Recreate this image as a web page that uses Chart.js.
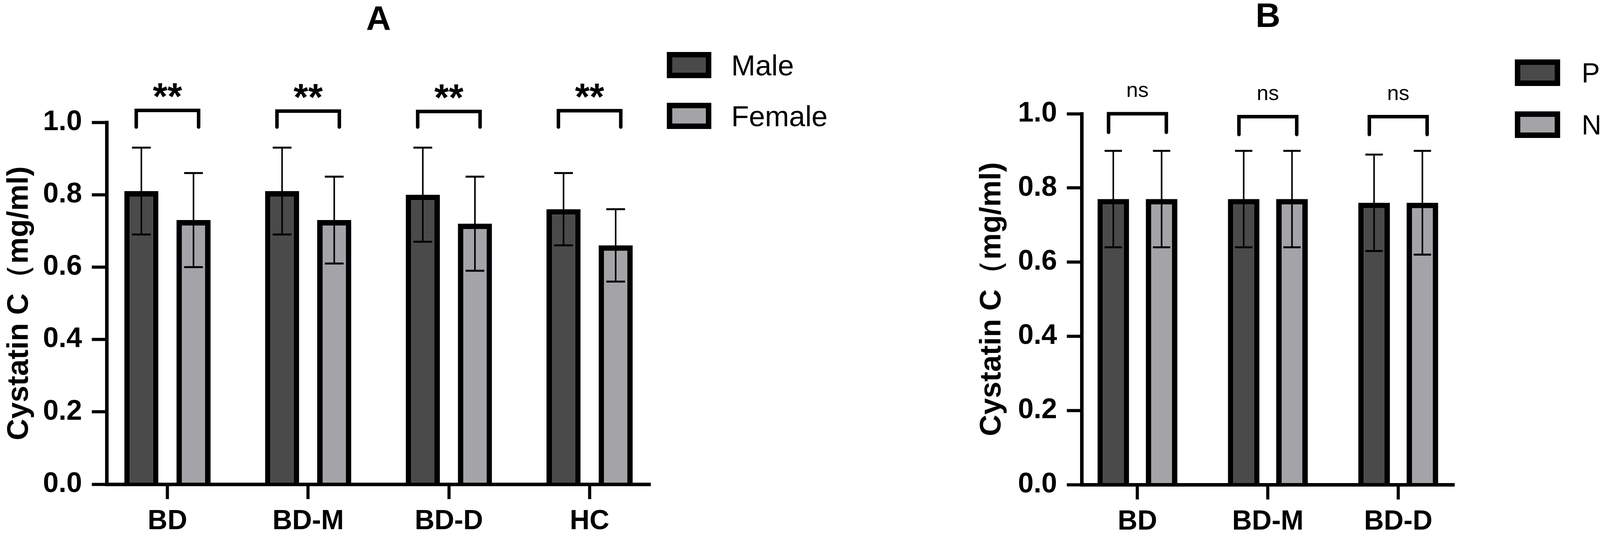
<!DOCTYPE html>
<html>
<head>
<meta charset="utf-8">
<title>Cystatin C</title>
<script src="https://cdn.jsdelivr.net/npm/chart.js@4.4.0/dist/chart.umd.min.js"></script>
<style>
  html, body { margin: 0; padding: 0; background: #fff; overflow: hidden; }
  #wrap { position: relative; width: 4160px; height: 1374px; }
  canvas { position: absolute; top: 0; }
  #chartA { left: 0; }
  #chartB { left: 2080px; }
</style>
</head>
<body>
<div id="wrap">
  <canvas id="chartA" width="2300" height="1374" style="width:2300px;height:1374px"></canvas>
  <canvas id="chartB" width="2080" height="1374" style="width:2080px;height:1374px"></canvas>
</div>
<script>
// Panel A: sex
const groupsA = ['BD', 'BD-M', 'BD-D', 'HC'];
const maleMean = [0.81, 0.81, 0.80, 0.76];
const maleSd = [0.12, 0.12, 0.13, 0.10];
const femaleMean = [0.73, 0.73, 0.72, 0.66];
const femaleSd = [0.13, 0.12, 0.13, 0.10];
const sigA = ['**', '**', '**', '**'];

// Panel B: psychotic / non-psychotic
const groupsB = ['BD', 'BD-M', 'BD-D'];
const pMean = [0.77, 0.77, 0.76];
const pSd = [0.13, 0.13, 0.13];
const npMean = [0.77, 0.77, 0.76];
const npSd = [0.13, 0.13, 0.14];
const sigB = ['ns', 'ns', 'ns'];

const yTicks = [0, 0.2, 0.4, 0.6, 0.8, 1.0];

const FONT = "'Liberation Sans', Arial, sans-serif";
const DARK = '#4a4a4a';
const LIGHT = '#a4a3a8';

Chart.defaults.font.family = FONT;
Chart.defaults.color = '#000';

// mean +/- SD whiskers on every bar
const errorBars = {
  id: 'errorBars',
  afterDatasetsDraw(chart, args, opts) {
    const { ctx } = chart;
    const y = chart.scales.y;
    ctx.save();
    ctx.strokeStyle = '#000';
    chart.data.datasets.forEach((ds, di) => {
      chart.getDatasetMeta(di).data.forEach((bar, i) => {
        const v = ds.data[i].y;
        const sd = ds.sd[i];
        const yHi = y.getPixelForValue(v + sd);
        const yLo = y.getPixelForValue(v - sd);
        const half = bar.width * opts.capRatio / 2;
        ctx.lineWidth = opts.lineWidth;
        ctx.beginPath();
        ctx.moveTo(bar.x, yHi);
        ctx.lineTo(bar.x, yLo);
        ctx.stroke();
        ctx.lineWidth = opts.capWidth;
        ctx.beginPath();
        ctx.moveTo(bar.x - half, yHi);
        ctx.lineTo(bar.x + half, yHi);
        ctx.moveTo(bar.x - half, yLo);
        ctx.lineTo(bar.x + half, yLo);
        ctx.stroke();
      });
    });
    ctx.restore();
  }
};

// significance brackets above each pair of bars
const sigBrackets = {
  id: 'sigBrackets',
  afterDraw(chart, args, opts) {
    const { ctx } = chart;
    const y = chart.scales.y;
    const m0 = chart.getDatasetMeta(0);
    const m1 = chart.getDatasetMeta(1);
    ctx.save();
    ctx.strokeStyle = '#000';
    ctx.fillStyle = '#000';
    ctx.lineWidth = opts.lineWidth;
    ctx.lineCap = 'round';
    ctx.lineJoin = 'miter';
    ctx.font = opts.font;
    ctx.textAlign = 'center';
    ctx.textBaseline = 'alphabetic';
    opts.labels.forEach((lab, i) => {
      const a = m0.data[i];
      const b = m1.data[i];
      const x1 = a.x - a.width * opts.inset;
      const x2 = b.x + b.width * opts.inset;
      const yt = y.getPixelForValue(opts.top[i]);
      const yb = y.getPixelForValue(opts.bottom[i]);
      ctx.beginPath();
      ctx.moveTo(x1, yb);
      ctx.lineTo(x1, yt);
      ctx.lineTo(x2, yt);
      ctx.lineTo(x2, yb);
      ctx.stroke();
      const m = ctx.measureText(lab);
      ctx.fillText(lab, (x1 + x2) / 2, yt - opts.textGap - m.actualBoundingBoxDescent);
    });
    ctx.restore();
  }
};

// legend with thick-bordered boxes, placed to the right of the plot
const boxLegend = {
  id: 'boxLegend',
  afterDraw(chart, args, opts) {
    const { ctx } = chart;
    ctx.save();
    ctx.font = opts.fontSize + 'px ' + FONT;
    ctx.textAlign = 'left';
    ctx.textBaseline = 'alphabetic';
    chart.data.datasets.forEach((ds, i) => {
      const top = opts.y + i * opts.spacing;
      ctx.fillStyle = '#000';
      ctx.fillRect(opts.x, top, opts.boxW, opts.boxH);
      ctx.fillStyle = ds.backgroundColor;
      ctx.fillRect(opts.x + opts.border, top + opts.border,
                   opts.boxW - 2 * opts.border, opts.boxH - 2 * opts.border);
      ctx.fillStyle = '#000';
      ctx.fillText(ds.label, opts.x + opts.boxW + opts.textGap,
                   top + opts.boxH / 2 + opts.fontSize * 0.358);
    });
    ctx.restore();
  }
};

function barSet(label, means, sds, color) {
  return {
    label: label,
    data: means.map((v, i) => ({ x: i, y: v })),
    sd: sds,
    backgroundColor: color,
    borderColor: '#000',
    borderWidth: 14,
    categoryPercentage: 0.741,
    barPercentage: 0.654
  };
}

function makeChart(id, cfg) {
  const ctx = document.getElementById(id).getContext('2d');
  return new Chart(ctx, {
    type: 'bar',
    data: {
      datasets: [
        barSet(cfg.names[0], cfg.means[0], cfg.sds[0], DARK),
        barSet(cfg.names[1], cfg.means[1], cfg.sds[1], LIGHT)
      ]
    },
    options: {
      responsive: false,
      animation: false,
      devicePixelRatio: 1,
      layout: { padding: cfg.padding },
      plugins: {
        legend: { display: false },
        tooltip: { enabled: false },
        title: {
          display: true,
          text: cfg.title,
          fullSize: false,
          color: '#000',
          font: { size: 88, weight: 'bold', lineHeight: 1 },
          padding: cfg.titlePad
        },
        errorBars: { lineWidth: 4, capWidth: 5, capRatio: 0.55 },
        sigBrackets: {
          labels: cfg.sig,
          top: cfg.bracketTop,
          bottom: cfg.bracketBottom,
          inset: 0.15,
          lineWidth: 9,
          textGap: cfg.sigGap,
          font: cfg.sigFont
        },
        boxLegend: cfg.legend
      },
      scales: {
        x: {
          type: 'linear',
          min: cfg.xMin,
          max: cfg.xMax,
          offset: false,
          afterBuildTicks: s => { s.ticks = cfg.groups.map((_, i) => ({ value: i })); },
          afterFit: s => { s.height = cfg.xHeight; },
          grid: { display: true, offset: false, drawOnChartArea: false, drawTicks: true, tickLength: 38, tickWidth: 8, color: '#000' },
          border: { display: true, width: 9, color: '#000', z: 1 },
          ticks: {
            autoSkip: false,
            maxRotation: 0,
            padding: 16,
            color: '#000',
            font: { size: 70, weight: 'bold' },
            callback: v => cfg.groups[v]
          }
        },
        y: {
          min: 0,
          max: 1,
          afterBuildTicks: s => { s.ticks = yTicks.map(v => ({ value: v })); },
          afterFit: s => { s.width = cfg.yWidth; },
          grid: { drawOnChartArea: false, drawTicks: true, tickLength: 38, tickWidth: 8, color: '#000' },
          border: { display: true, width: 9, color: '#000' },
          ticks: {
            padding: 25,
            color: '#000',
            font: { size: 72, weight: 'bold' },
            callback: v => v.toFixed(1)
          },
          title: {
            display: true,
            text: 'Cystatin C（mg/ml)',
            color: '#000',
            font: { size: 76, weight: 'bold' },
            padding: { top: 4, bottom: 0 }
          }
        }
      }
    },
    plugins: [errorBars, sigBrackets, boxLegend]
  });
}

makeChart('chartA', {
  title: 'A',
  groups: groupsA,
  names: ['Male', 'Female'],
  means: [maleMean, femaleMean],
  sds: [maleSd, femaleSd],
  sig: sigA,
  sigFont: 'bold 96px ' + FONT,
  sigGap: 33,
  bracketTop: [1.033, 1.031, 1.030, 1.032],
  bracketBottom: [0.987, 0.987, 0.987, 0.987],
  xMin: -0.432,
  xMax: 3.432,
  xHeight: 135,
  yWidth: 273,
  padding: { left: 0, right: 635, top: 0, bottom: 0 },
  titlePad: { top: 8, bottom: 217 },
  legend: { x: 1707, y: 133, boxW: 114, boxH: 67, border: 14, spacing: 130, textGap: 51, fontSize: 74 }
});

makeChart('chartB', {
  title: 'B',
  groups: groupsB,
  names: ['P', 'NP'],
  means: [pMean, npMean],
  sds: [pSd, npSd],
  sig: sigB,
  sigFont: '54px ' + FONT,
  sigGap: 42,
  bracketTop: [1.0, 0.992, 0.992],
  bracketBottom: [0.95, 0.944, 0.944],
  xMin: -0.428,
  xMax: 2.43,
  xHeight: 134,
  yWidth: 279,
  padding: { left: 410, right: 437, top: 0, bottom: 0 },
  titlePad: { top: 1, bottom: 202 },
  legend: { x: 1798, y: 152, boxW: 116, boxH: 68, border: 14, spacing: 133, textGap: 55, fontSize: 70 }
});
</script>
</body>
</html>
